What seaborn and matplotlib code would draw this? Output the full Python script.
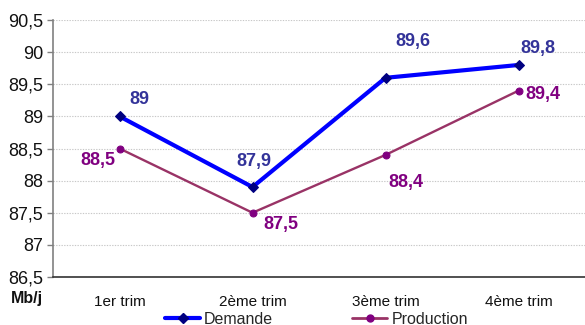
import matplotlib
matplotlib.use("Agg")
import matplotlib.pyplot as plt
import seaborn as sns
import pandas as pd
from matplotlib.lines import Line2D

quarters = ["1er trim", "2ème trim", "3ème trim", "4ème trim"]
demande = [89.0, 87.9, 89.6, 89.8]
production = [88.5, 87.5, 88.4, 89.4]
y_ticks = [86.5, 87, 87.5, 88, 88.5, 89, 89.5, 90, 90.5]

sns.set_theme(style="white")
plt.rcParams["font.family"] = ["Liberation Sans", "DejaVu Sans"]

fig = plt.figure(figsize=(5.85, 3.25), dpi=100)
ax = fig.add_axes([53 / 585, 48 / 325, 532 / 585, 257 / 325])

df = pd.DataFrame({"pos": range(len(quarters)), "Demande": demande, "Production": production})

sns.lineplot(data=df, x="pos", y="Demande", ax=ax, color="#0000FF", linewidth=3,
             marker="D", markersize=5.5, markerfacecolor="#000080",
             markeredgecolor="#000080", zorder=3)
sns.lineplot(data=df, x="pos", y="Production", ax=ax, color="#993366", linewidth=1.7,
             marker="o", markersize=5, markerfacecolor="#800080",
             markeredgecolor="#800080", zorder=3)

ax.set_xlim(-0.5, 3.5)
ax.set_ylim(86.5, 90.5)
ax.set_yticks(y_ticks)
ax.set_yticklabels([f"{v:g}".replace(".", ",") for v in y_ticks], fontsize=13, color="#111111")
ax.set_xticks(range(len(quarters)))
ax.set_xticklabels(quarters, fontsize=11, color="#111111")
ax.tick_params(axis="x", length=0, pad=13)
ax.set_xticks([0.5, 1.5, 2.5], minor=True)
ax.tick_params(axis="x", which="minor", length=5, width=1, color="#333333", direction="out")
ax.tick_params(axis="y", length=4, width=1, color="#808080", direction="out", left=True, pad=3)
ax.set_xlabel("")
ax.set_ylabel("")

ax.grid(axis="y", color="#C8C8C8", linestyle=(0, (1.2, 1.2)), linewidth=0.8)
ax.set_axisbelow(True)
for side in ["top", "right"]:
    ax.spines[side].set_visible(False)
ax.spines["left"].set_color("#808080")
ax.spines["left"].set_linewidth(1.2)
ax.spines["bottom"].set_color("#333333")
ax.spines["bottom"].set_linewidth(1.2)

# value labels
dem_off = [(20, 17), (1, 26), (27, 36), (19, 16)]
prod_off = [(-22, -12), (28, -12), (20, -28), (24, -4)]
for i, v in enumerate(demande):
    dx, dy = dem_off[i]
    ax.annotate(f"{v:g}".replace(".", ","), (i, v), xytext=(dx, dy), textcoords="offset pixels",
                ha="center", va="center", fontsize=13, fontweight="bold", color="#333399")
for i, v in enumerate(production):
    dx, dy = prod_off[i]
    ax.annotate(f"{v:g}".replace(".", ","), (i, v), xytext=(dx, dy), textcoords="offset pixels",
                ha="center", va="center", fontsize=13, fontweight="bold", color="#800080")

fig.text(27 / 585, 1 - 299 / 325, "Mb/j", ha="center", va="center", fontsize=11.5,
         fontweight="bold", color="#111111")

handles = [
    Line2D([0], [0], color="#0000FF", linewidth=3, marker="D", markersize=5.5,
           markerfacecolor="#000080", markeredgecolor="#000080"),
    Line2D([0], [0], color="#993366", linewidth=2, marker="o", markersize=5,
           markerfacecolor="#800080", markeredgecolor="#800080"),
]
fig.legend(handles, ["Demande", "Production"], loc="center left",
           bbox_to_anchor=(165 / 585, 1 - 319 / 325),
           ncol=2, frameon=False, prop={"size": 11.5, "weight": "normal"},
           handlelength=2.2, handletextpad=0.25, columnspacing=4.95, borderpad=0,
           borderaxespad=0)

fig.savefig("out.png", dpi=100)
